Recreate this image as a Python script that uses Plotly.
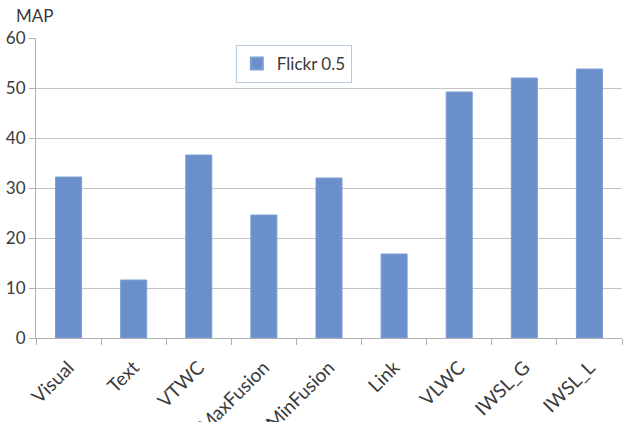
import plotly.graph_objects as go

# Mean average precision per method on Flickr (training ratio 0.5)
methods = ["Visual", "Text", "VTWC", "MaxFusion", "MinFusion", "Link", "VLWC", "IWSL_G", "IWSL_L"]
map_scores = [32.2, 11.6, 36.6, 24.6, 32.0, 16.8, 49.2, 52.0, 53.8]
series_name = "Flickr 0.5"
y_ticks = [0, 10, 20, 30, 40, 50, 60]

font_family = "Lato, 'Open Sans', sans-serif"
text_color = "#3a3a3a"

fig = go.Figure()
fig.add_trace(go.Bar(
    x=methods,
    y=map_scores,
    name=series_name,
    marker=dict(color="#6a8fcb", line=dict(color="#7d9fd4", width=1)),
    showlegend=True,
))

fig.update_layout(
    width=631,
    height=422,
    margin=dict(l=36, r=9, t=38, b=84, autoexpand=False),
    paper_bgcolor="white",
    plot_bgcolor="white",
    bargap=0.6,
    font=dict(family=font_family, size=16, color=text_color),
    showlegend=True,
    legend=dict(
        x=0.341, y=0.977, xanchor="left", yanchor="top",
        bordercolor="#b9c9e2", borderwidth=1, bgcolor="white",
        font=dict(size=17, color=text_color),
        itemsizing="constant",
    ),
    annotations=[dict(
        text="MAP", xref="paper", yref="paper", x=-0.037, y=1.075,
        xanchor="left", yanchor="middle", showarrow=False,
        font=dict(size=17, color=text_color),
    )],
)

fig.update_xaxes(
    tickangle=-45,
    tickson="boundaries",
    ticks="outside",
    ticklen=6,
    tickcolor="#b0b0b0",
    showline=True,
    linecolor="#b0b0b0",
    showgrid=False,
    automargin=False,
    ticklabelstandoff=10,
    tickfont=dict(size=19, color=text_color),
)

fig.update_yaxes(
    range=[0, 60],
    tickvals=y_ticks,
    ticks="outside",
    ticklen=6,
    tickcolor="#b0b0b0",
    showline=True,
    linecolor="#b0b0b0",
    showgrid=True,
    gridcolor="#c4c4c4",
    gridwidth=1,
    zeroline=False,
    automargin=False,
    tickfont=dict(size=17, color=text_color),
)

fig.write_html("out.html")
